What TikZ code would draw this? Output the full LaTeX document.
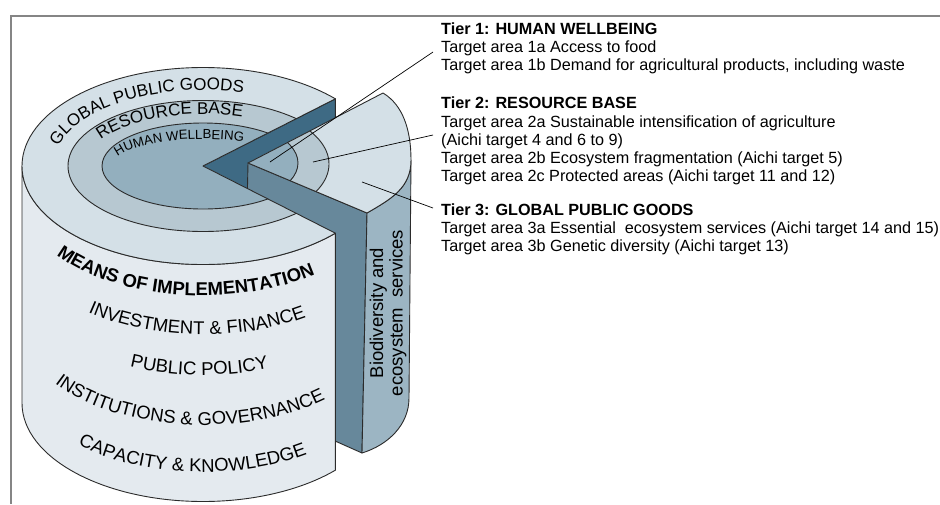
\documentclass[tikz,border=0pt]{standalone}
\usepackage{fontspec}
\setmainfont{Liberation Sans}
\usepackage{tikz}
\usetikzlibrary{calc, positioning, decorations.text, arrows.meta}
\usepackage{tkz-euclide}

\definecolor{ringout}{HTML}{D4E0E7}
\definecolor{ringmid}{HTML}{B7C8D1}
\definecolor{ringin}{HTML}{93AFBE}
\definecolor{sidecol}{HTML}{E4EAEF}
\definecolor{cutdark}{HTML}{3E6A84}
\definecolor{cutmed}{HTML}{67889B}
\definecolor{wedgeside}{HTML}{9CB5C3}
\definecolor{edgecol}{HTML}{2B2B2B}
\definecolor{framecol}{HTML}{858585}

\tikzset{
  face/.style={draw=edgecol, line width=0.9pt, line join=round},
  leader/.style={draw=black, line width=0.7pt},
  tiertext/.style={anchor=base west, align=left, inner sep=0pt, font=\fontsize{16.2}{18.2}\selectfont},
  ringlabel/.style={decorate, decoration={text along path, text={#1}}},
}

\begin{document}
\begin{tikzpicture}[>=latex, x=1pt, y=-1pt]
\useasboundingbox (0,0) rectangle (940,504);
\tkzDefPoints{203/166/C, 335.4/98.8/P, 335.4/233.2/Q, 22/166/L,
  248/163/A, 383/93/B, 411/160/R, 367/213/D, 362/453/E, 409/398/F, 243/400/G}
\coordinate (hwpt) at (270,162);
\coordinate (rbpt) at (313,162);
\coordinate (gpgpt) at (362,182);
% frame
\draw[framecol, line width=1.5pt] (940,16) -- (11,16) -- (11,504);
% cut face of the body
\path[face, fill=cutdark] (C) -- (P) -- ($(P)+(0,237)$) -- ($(C)+(0,237)$) -- cycle;
% the lifted wedge
\path[face, fill=cutmed] (A) -- (D) -- (E) -- (G) -- cycle;
\path[face, fill=wedgeside] (D) .. controls (391,199) and (411,188) .. (R) -- (F)
  .. controls (409,425) and (388,445) .. (E) -- cycle;
\begin{scope}
  \clip (A) -- (B) .. controls (403,105) and (411,130) .. (R)
    .. controls (411,188) and (391,199) .. (D) -- cycle;
  \fill[ringout] (200,50) rectangle (450,250);
  \path[face, fill=ringmid] (196,164) ellipse[x radius=133, y radius=64];
  \path[face, fill=ringin] (197,163) ellipse[x radius=101, y radius=46];
\end{scope}
\path[face] (A) -- (B) .. controls (403,105) and (411,130) .. (R)
  .. controls (411,188) and (391,199) .. (D) -- cycle;
% main body
\path[face, fill=sidecol] (L) -- ++(0,237)
  arc[start angle=180, end angle=43, x radius=181, y radius=98.5] -- (Q)
  arc[start angle=43, end angle=180, x radius=181, y radius=98.5] -- cycle;
\begin{scope}
  \clip (C) -- ($(C)!3!(P)$) -- (-200,-400) -- (-200,900) -- ($(C)!3!(Q)$) -- cycle;
  \path[face, fill=ringout] (C) ellipse[x radius=181, y radius=98.5];
  \path[face, fill=ringmid] (C) ellipse[x radius=135, y radius=65.5];
  \path[face, fill=ringin] (C) ellipse[x radius=101, y radius=43];
\end{scope}
\path[face] (P) -- (C) -- (Q);
% ring labels
\path[ringlabel={|\fontsize{17}{17}\selectfont|GLOBAL PUBLIC GOODS}] (C) ++(195:150 and 76)
  arc[start angle=195, end angle=300, x radius=150, y radius=76];
\path[ringlabel={|\fontsize{17}{17}\selectfont|RESOURCE BASE}] (C) ++(210:118 and 52)
  arc[start angle=210, end angle=300, x radius=118, y radius=52];
\path[ringlabel={|\fontsize{13.2}{13.2}\selectfont|HUMAN WELLBEING}] (C) ++(200:91 and 27)
  arc[start angle=200, end angle=320, x radius=91, y radius=27];
% side labels
\path[ringlabel={|\fontsize{18.5}{18.5}\selectfont\bfseries|MEANS OF IMPLEMENTATION}] (203,197) ++(144:181 and 98.5)
  arc[start angle=144, end angle=30, x radius=181, y radius=98.5];
\path[ringlabel={|\fontsize{18.5}{18.5}\selectfont|INVESTMENT {\&} FINANCE}] (203,236) ++(129.4:181 and 98.5)
  arc[start angle=129.4, end angle=30, x radius=181, y radius=98.5];
\path[ringlabel={|\fontsize{18.5}{18.5}\selectfont|PUBLIC POLICY}] (203,276.5) ++(113.8:181 and 98.5)
  arc[start angle=113.8, end angle=30, x radius=181, y radius=98.5];
\path[ringlabel={|\fontsize{18.5}{18.5}\selectfont|INSTITUTIONS {\&} GOVERNANCE}] (203,326.5) ++(144.9:181 and 98.5)
  arc[start angle=144.9, end angle=30, x radius=181, y radius=98.5];
\path[ringlabel={|\fontsize{18.5}{18.5}\selectfont|CAPACITY {\&} KNOWLEDGE}] (203,373.5) ++(133.7:181 and 98.5)
  arc[start angle=133.7, end angle=30, x radius=181, y radius=98.5];
\node[rotate=90, align=center, font=\fontsize{18.5}{19.5}\selectfont] (biotext) at (388,313)
  {Biodiversity and\\ecosystem\ \ services};
% tiers (placed at the baseline of their last line)
\node[tiertext] (tier1) at (441,70.7) {\textbf{Tier 1: HUMAN WELLBEING}\\
  Target area 1a Access to food\\
  Target area 1b Demand for agricultural products, including waste};
\node[tiertext] (tier2) at (441,181.7) {\textbf{Tier 2: RESOURCE BASE}\\
  Target area 2a Sustainable intensification of agriculture\\
  (Aichi target 4 and 6 to 9)\\
  Target area 2b Ecosystem fragmentation (Aichi target 5)\\
  Target area 2c Protected areas (Aichi target 11 and 12)};
\node[tiertext] (tier3) at (441,251.7) {\textbf{Tier 3: GLOBAL PUBLIC GOODS}\\
  Target area 3a Essential\ \ ecosystem services (Aichi target 14 and 15)\\
  Target area 3b Genetic diversity (Aichi target 13)};
\draw[leader] (hwpt) -- ($(tier1.base west)+(-8,-18.7)$);
\draw[leader] (rbpt) -- ($(tier2.base west)+(-8,-46.7)$);
\draw[leader] (gpgpt) -- ($(tier3.base west)+(-8,-43.7)$);
\end{tikzpicture}
\end{document}
